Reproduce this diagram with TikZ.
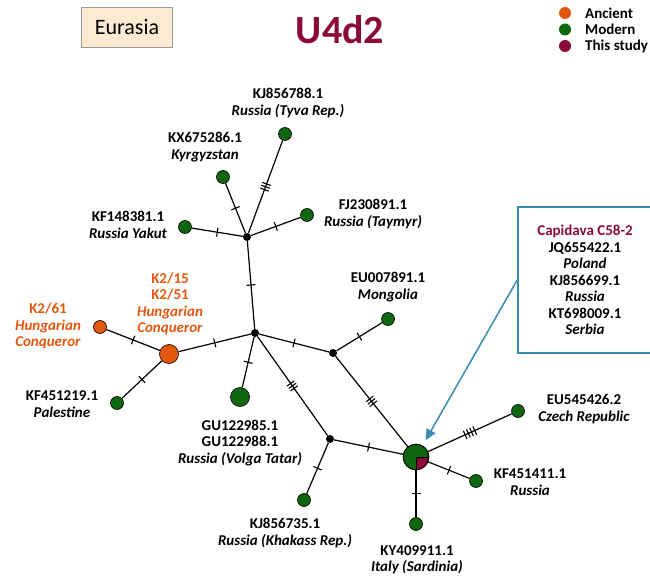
\documentclass[tikz,border=0pt]{standalone}
\usepackage{fontspec}
\setmainfont{Carlito}
\usetikzlibrary{decorations.markings,arrows.meta}
\definecolor{ancient}{RGB}{228,87,14}
\definecolor{modern}{RGB}{14,102,14}
\definecolor{study}{RGB}{138,10,58}
\definecolor{callout}{RGB}{60,140,178}
\definecolor{tagfill}{RGB}{253,234,210}
\begin{document}
\begin{tikzpicture}[x=1pt,y=-1pt,
  leaf/.style={circle, draw=black, line width=0.6pt, fill=modern, minimum size=13pt, inner sep=0pt},
  bigleaf/.style={leaf, minimum size=18pt},
  oldleaf/.style={leaf, fill=ancient},
  hub/.style={circle, fill=black, minimum size=8pt, inner sep=0pt},
  edge/.style={line width=1.2pt},
  hatchone/.style={postaction={decorate}, decoration={markings, mark=at position 0.5 with {
      \draw[line width=1.1pt] (0,-4.5pt) -- (0,4.5pt);}}},
  hatchthree/.style={postaction={decorate}, decoration={markings, mark=at position 0.5 with {
      \draw[line width=1.1pt] (-3pt,-4.5pt) -- (-3pt,4.5pt);
      \draw[line width=1.1pt] (0pt,-4.5pt) -- (0pt,4.5pt);
      \draw[line width=1.1pt] (3pt,-4.5pt) -- (3pt,4.5pt);}}},
  hatchfour/.style={postaction={decorate}, decoration={markings, mark=at position 0.5 with {
      \draw[line width=1.1pt] (-5.25pt,-4.5pt) -- (-5.25pt,4.5pt);
      \draw[line width=1.1pt] (-1.75pt,-4.5pt) -- (-1.75pt,4.5pt);
      \draw[line width=1.1pt] (1.75pt,-4.5pt) -- (1.75pt,4.5pt);
      \draw[line width=1.1pt] (5.25pt,-4.5pt) -- (5.25pt,4.5pt);}}},
  lab/.style={font=\fontsize{15}{16.5}\selectfont\bfseries, align=center, inner sep=0pt},
  oldlab/.style={lab, text=ancient},
  legdot/.style={circle, minimum size=12pt, inner sep=0pt},
  legtext/.style={font=\fontsize{15}{16.5}\selectfont\bfseries, anchor=west, inner sep=0pt}
]
\useasboundingbox (0,0) rectangle (650,577);

% header
\node[draw=gray!80, line width=0.8pt, fill=tagfill, minimum width=91pt, minimum height=40pt,
      font=\fontsize{22}{24}\selectfont] (region) at (127,27) {Eurasia};
\node[font=\fontsize{40}{44}\selectfont\bfseries, text=study] (title) at (340,30) {U4d2};

% legend
\node[legdot, fill=ancient] (lg1) at (565,13) {};
\node[legdot, fill=modern]  (lg2) at (565,29.5) {};
\node[legdot, fill=study]   (lg3) at (565,46) {};
\node[legtext] (lt1) at (585,13) {Ancient};
\node[legtext] (lt2) at (585,29.5) {Modern};
\node[legtext] (lt3) at (585,46) {This study};

% median vectors
\node[hub] (A) at (247,237) {};
\node[hub] (B) at (255,333) {};
\node[hub] (C) at (333,353) {};
\node[hub] (D) at (330,439) {};

% sampled haplotypes
\node[leaf] (KJa) at (285,134) {};
\node[leaf] (KX)  at (223,177) {};
\node[leaf] (KFa) at (185,227) {};
\node[leaf] (FJ)  at (307,215) {};
\node[leaf] (EUa) at (388,319) {};
\node[oldleaf, minimum size=19pt] (H) at (169,354) {};
\node[oldleaf, minimum size=13pt] (K61) at (100,327) {};
\node[leaf] (KFb) at (117,403) {};
\node[bigleaf, minimum size=19pt] (GU) at (240,397) {};
\node[leaf] (KJb) at (304,500) {};
\node[leaf, minimum size=26pt] (E) at (416,457) {};
\node[leaf] (EUb) at (518,411) {};
\node[leaf] (KFc) at (476,481) {};
\node[leaf] (KY)  at (416,524) {};

% connections with mutation ticks
\begin{scope}[on background layer/.style={}]
\draw[edge, hatchthree] (A) -- (KJa);
\draw[edge, hatchone] (A) -- (KX);
\draw[edge, hatchone] (A) -- (KFa);
\draw[edge, hatchone] (A) -- (FJ);
\draw[edge, hatchone] (A) -- (B);
\draw[edge, hatchone] (B) -- (H);
\draw[edge, hatchone] (H) -- (K61);
\draw[edge, hatchone] (H) -- (KFb);
\draw[edge, hatchone] (B) -- (GU);
\draw[edge, hatchone] (B) -- (C);
\draw[edge, hatchone] (C) -- (EUa);
\draw[edge, hatchthree] (C) -- (E);
\draw[edge, hatchthree] (B) -- (D);
\draw[edge, hatchone] (D) -- (E);
\draw[edge, hatchone] (D) -- (KJb);
\draw[edge, hatchfour] (E) -- (EUb);
\draw[edge, hatchone] (E) -- (KFc);
\draw[edge, hatchone] (E) -- (KY);
\end{scope}

% share of the central haplotype from this study
\fill[study] (E.center) -- ++(12.7pt,0) arc[start angle=0, end angle=-90, radius=12.7pt] -- cycle;
\draw[line width=0.8pt] (E.center) -- ++(12.7pt,0);
\draw[line width=0.8pt] (E.center) -- ++(0,-12.7pt);
\draw[line width=0.6pt] (E.center) circle[radius=12.7pt];

% labels
\node[lab] (lKJa) at (288,103) {KJ856788.1\\\textit{Russia (Tyva Rep.)}};
\node[lab] (lKX)  at (205,147) {KX675286.1\\\textit{Kyrgyzstan}};
\node[lab] (lKFa) at (128,225) {KF148381.1\\\textit{Russia Yakut}};
\node[lab] (lFJ)  at (373,214) {FJ230891.1\\\textit{Russia (Taymyr)}};
\node[lab] (lEUa) at (388,287) {EU007891.1\\\textit{Mongolia}};
\node[oldlab] (lH) at (170,304) {K2/15\\K2/51\\\textit{Hungarian}\\\textit{Conqueror}};
\node[oldlab] (lK61) at (48,326) {K2/61\\\textit{Hungarian}\\\textit{Conqueror}};
\node[lab] (lKFb) at (62,404) {KF451219.1\\\textit{Palestine}};
\node[lab] (lGU)  at (240,443) {GU122985.1\\GU122988.1\\\textit{Russia (Volga Tatar)}};
\node[lab] (lKJb) at (285,533) {KJ856735.1\\\textit{Russia (Khakass Rep.)}};
\node[lab] (lKY)  at (417,560) {KY409911.1\\\textit{Italy (Sardinia)}};
\node[lab] (lKFc) at (530,482) {KF451411.1\\\textit{Russia}};
\node[lab] (lEUb) at (584,409) {EU545426.2\\\textit{Czech Republic}};

% callout
\node[draw=callout, line width=1.5pt, fill=white, minimum width=134pt, minimum height=146pt,
      font=\fontsize{15}{16.5}\selectfont\bfseries, align=center] (cap) at (585,280)
  {\textcolor{study}{Capidava C58-2}\\JQ655422.1\\\textit{Poland}\\KJ856699.1\\\textit{Russia}\\KT698009.1\\\textit{Serbia}};
\draw[callout, line width=1.5pt, shorten >=6pt, -{Triangle[width=10pt,length=11pt]}] (cap.west) -- (E);
\end{tikzpicture}
\end{document}
